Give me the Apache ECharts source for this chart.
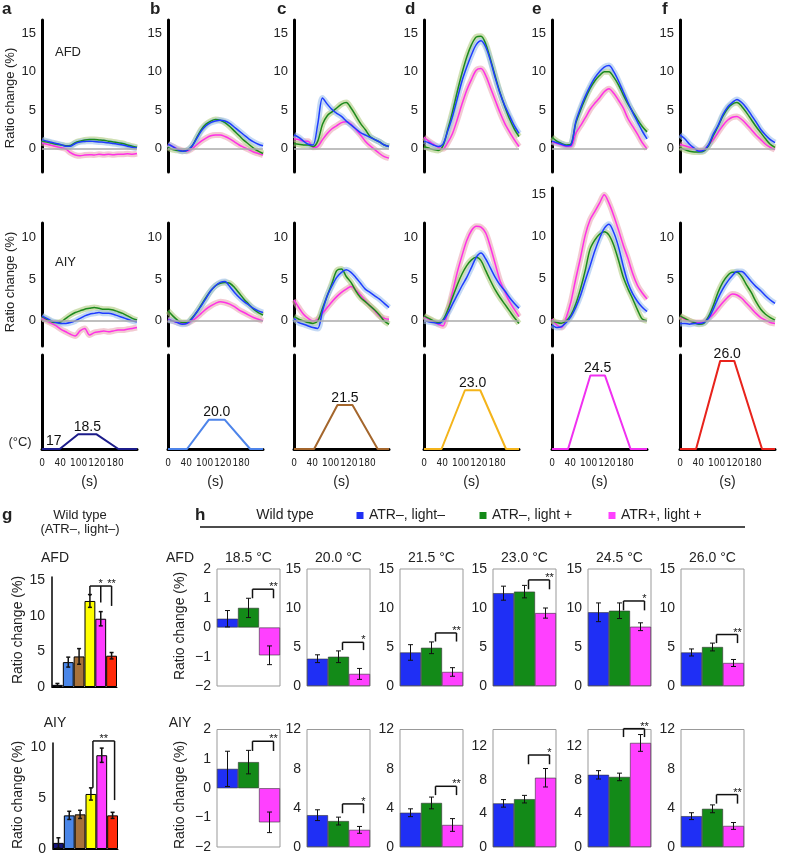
<!DOCTYPE html>
<html><head><meta charset="utf-8">
<script src="https://cdn.jsdelivr.net/npm/echarts@6.0.0/dist/echarts.min.js"></script>
<style>html,body{margin:0;padding:0;background:#fff}#c{width:788px;height:859px}</style>
</head><body><div id="c"></div>
<script>
// ---------------- DATA ----------------
const timeSec = [0,10,20,30,40,50,60,70,80,90,100,110,120,130,140,150,160,170,180,190,200];

// AFD traces (ratio change %)  blue = ATR–,light– ; green = ATR–,light+ ; mag = ATR+,light+
const afdA_blue  = [1.2,1.0,0.85,0.7,0.55,0.35,0.35,0.7,0.9,0.95,1.0,0.95,0.9,0.85,0.8,0.7,0.6,0.5,0.35,0.2,0.1];
const afdA_green = [1.0,0.9,0.75,0.6,0.5,0.4,0.45,0.8,1.0,1.15,1.2,1.2,1.15,1.1,1.0,0.9,0.8,0.7,0.5,0.35,0.2];
const afdA_mag   = [0.8,0.6,0.45,0.3,0.15,0.0,-0.5,-0.8,-0.9,-0.8,-0.75,-0.8,-0.7,-0.75,-0.7,-0.75,-0.7,-0.7,-0.65,-0.7,-0.6];
const afdB_blue  = [0.6,0.3,-0.1,-0.3,-0.2,0.3,1.3,2.3,3.0,3.4,3.6,3.7,3.6,3.3,2.8,2.3,1.8,1.3,0.9,0.6,0.4];
const afdB_green = [0.2,-0.1,-0.2,-0.3,-0.2,0.3,1.4,2.5,3.2,3.6,3.8,3.7,3.4,2.9,2.3,1.7,1.1,0.6,0.1,-0.3,-0.6];
const afdB_mag   = [0.6,0.3,0.0,-0.2,-0.3,0.0,0.5,1.0,1.4,1.7,1.8,1.8,1.6,1.3,0.9,0.5,0.2,-0.1,-0.4,-0.6,-0.8];
const afdC_blue  = [1.8,1.5,1.0,0.6,0.5,3.2,6.6,5.8,5.1,4.6,4.2,3.6,3.1,2.6,2.1,1.8,1.5,1.2,0.9,0.5,0.3];
const afdC_green = [0.7,0.6,0.5,0.5,0.3,1.0,3.2,4.3,4.8,5.3,5.8,6.0,5.3,4.3,3.3,2.5,1.6,1.2,0.9,0.5,0.3];
const afdC_mag   = [1.3,1.2,1.0,1.0,0.2,0.3,1.2,2.0,2.6,3.0,3.4,3.5,3.2,2.5,1.8,1.0,0.4,-0.1,-0.6,-1.0,-1.2];
const afdD_blue  = [1.0,0.8,0.5,0.3,0.6,2.3,4.2,6.5,8.8,10.6,12.2,13.5,14.0,13.2,11.4,9.2,7.2,5.6,4.3,3.0,2.0];
const afdD_green = [0.3,0.1,-0.1,-0.2,0.4,2.5,4.8,7.4,9.8,11.9,13.5,14.5,14.6,13.6,11.6,9.4,7.3,5.5,3.9,2.6,1.6];
const afdD_mag   = [1.5,1.0,0.6,0.2,0.0,0.8,2.0,3.8,5.8,7.6,9.0,10.2,10.4,9.5,7.9,6.3,4.7,3.3,2.2,1.2,0.3];
const afdE_blue  = [1.0,0.8,0.6,0.4,0.5,3.5,5.3,6.8,8.1,9.2,10.0,10.6,10.8,10.0,8.8,7.4,6.0,4.7,3.5,2.3,1.3];
const afdE_green = [1.5,1.0,0.7,0.5,0.6,3.3,5.0,6.5,7.8,8.8,9.5,10.0,10.0,9.3,8.3,7.0,5.8,4.8,3.8,2.9,2.2];
const afdE_mag   = [0.9,0.7,0.5,0.3,0.3,2.0,3.0,4.0,5.1,5.9,6.6,7.4,7.8,7.2,6.3,5.3,3.9,2.9,1.9,0.8,0.0];
const afdF_blue  = [1.8,1.3,0.6,0.1,-0.3,-0.2,0.5,1.9,3.0,4.4,5.4,6.0,6.4,6.0,5.3,4.4,3.5,2.5,1.8,1.2,0.8];
const afdF_green = [0.2,-0.1,-0.3,-0.4,-0.4,-0.3,0.4,1.7,2.9,4.2,5.2,5.8,6.0,5.5,4.7,3.8,2.9,2.1,1.3,0.6,0.2];
const afdF_mag   = [0.6,0.4,0.2,0.0,-0.2,-0.1,0.5,1.2,2.1,3.0,3.7,4.1,4.2,3.8,3.2,2.5,1.8,1.2,0.6,0.2,-0.1];

// AIY traces
const aiyA_blue  = [0.6,0.3,0.0,-0.2,-0.3,-0.3,-0.2,0.0,0.3,0.6,0.8,0.9,1.0,0.9,0.9,0.8,0.6,0.4,0.2,0.0,-0.1];
const aiyA_green = [0.5,0.2,-0.1,-0.2,-0.1,0.3,0.7,1.0,1.2,1.4,1.5,1.6,1.5,1.4,1.4,1.3,1.1,0.9,0.6,0.3,0.1];
const aiyA_mag   = [0.4,0.0,-0.3,-0.6,-1.0,-1.3,-1.6,-1.8,-1.2,-0.9,-1.7,-1.4,-1.3,-1.2,-1.3,-1.2,-1.1,-1.1,-1.0,-0.9,-0.8];
const aiyB_blue  = [0.1,0.0,-0.2,-0.4,-0.3,0.2,1.0,1.8,2.7,3.6,4.2,4.6,4.7,4.1,3.4,2.8,2.3,1.9,1.5,1.2,1.0];
const aiyB_green = [1.2,0.6,0.1,-0.2,-0.2,0.3,1.0,1.9,2.8,3.6,4.2,4.5,4.6,4.5,4.0,3.3,2.6,2.0,1.4,1.0,0.7];
const aiyB_mag   = [0.2,0.0,-0.2,-0.3,-0.3,0.0,0.4,0.9,1.4,1.8,2.1,2.3,2.2,2.0,1.7,1.3,1.0,0.7,0.4,0.2,0.0];
const aiyC_blue  = [0.3,-0.2,-0.4,-0.6,-0.8,-0.9,1.2,3.0,4.2,5.2,5.8,6.1,5.8,5.2,4.5,3.8,3.4,3.0,2.6,2.1,1.6];
const aiyC_green = [0.5,0.2,0.0,-0.2,-0.3,0.0,1.5,3.0,4.5,6.0,6.2,5.3,4.6,3.6,2.8,2.3,1.8,1.3,0.7,0.0,-0.4];
const aiyC_mag   = [2.5,1.6,0.8,0.3,0.0,0.2,0.9,1.6,2.3,2.9,3.4,3.8,4.1,3.7,3.1,2.4,1.8,1.2,0.6,0.3,0.2];
const aiyD_blue  = [0.0,-0.1,-0.2,-0.3,0.0,0.9,2.0,3.1,4.2,5.2,6.4,7.6,8.1,7.4,6.3,5.2,4.3,3.6,2.8,2.1,1.5];
const aiyD_green = [0.6,0.3,0.0,-0.2,0.1,1.3,2.8,4.3,5.6,6.6,7.3,7.6,7.2,6.0,4.8,3.7,2.8,2.0,1.2,0.4,-0.3];
const aiyD_mag   = [0.5,0.2,-0.1,-0.4,-0.6,1.2,3.4,5.8,7.8,9.6,10.8,11.3,11.2,10.5,8.8,6.8,4.8,3.5,2.3,1.4,0.5];
const aiyE_blue  = [-0.5,-0.8,-0.7,-0.2,0.5,1.6,3.0,4.8,6.5,8.3,9.8,11.0,11.5,10.5,8.8,6.5,4.5,3.2,2.3,1.6,1.1];
const aiyE_green = [0.0,-0.2,-0.3,0.0,0.7,2.0,3.8,6.0,8.5,9.6,10.3,10.6,10.2,9.0,7.2,5.2,3.8,2.6,1.3,0.2,0.0];
const aiyE_mag   = [0.2,-0.5,-0.8,0.4,2.3,5.0,7.5,10.2,12.0,13.0,14.0,15.0,14.0,12.5,10.8,9.0,7.4,5.6,4.2,3.3,2.6];
const aiyF_blue  = [-0.3,-0.3,-0.4,-0.3,-0.3,-0.2,0.3,1.4,2.7,3.8,4.7,5.4,5.9,5.9,5.4,4.7,4.1,3.6,3.0,2.5,2.1];
const aiyF_green = [0.6,0.3,0.0,-0.2,-0.4,-0.3,0.5,1.8,3.4,4.6,5.4,5.8,5.8,5.3,4.3,3.4,2.3,1.4,0.8,0.4,0.1];
const aiyF_mag   = [0.5,0.2,0.0,-0.2,-0.2,-0.1,0.3,0.8,1.5,2.2,2.8,3.2,3.1,2.7,2.1,1.5,0.9,0.4,0.1,-0.2,-0.3];

// Temperature stimulus (x in units of the time-label axis)
const timeTickLabels = ['0','40','100','120','180'];
const tempBase = 17;
const tempPeak = [18.5, 20.0, 21.5, 23.0, 24.5, 26.0];
const tempProfA = [0, 0.97, 1.98, 2.99, 4.18, 5.2];
const tempProfB = [0, 1.04, 2.24, 3.10, 4.50, 5.2];
const tempProfC = [0, 1.10, 2.38, 3.20, 4.58, 5.2];
const tempProfD = [0, 0.96, 2.24, 3.08, 4.49, 5.2];
const tempProfE = [0, 0.88, 2.10, 2.90, 4.30, 5.2];
const tempProfF = [0, 0.88, 2.20, 2.97, 4.49, 5.2];

// Panel g: wild type (ATR–, light–) peak responses per temperature
const gCategories = ['18.5','20.0','21.5','23.0','24.5','26.0'];
const gAfdMean = [0.3, 3.5, 4.3, 12.1, 9.6, 4.4];
const gAfdSem  = [0.2, 0.7, 1.1, 0.9, 1.0, 0.45];
const gAiyMean = [0.6, 3.3, 3.4, 5.4, 9.2, 3.3];
const gAiySem  = [0.5, 0.4, 0.4, 0.6, 0.7, 0.3];

// Panel h
const hTitles = ['18.5 °C','20.0 °C','21.5 °C','23.0 °C','24.5 °C','26.0 °C'];
const hGroups = ['ATR–, light–','ATR–, light +','ATR+, light +'];
const hAfdBlue  = [0.3, 3.5, 4.3, 11.9, 9.45, 4.3];
const hAfdGreen = [0.67, 3.75, 4.9, 12.1, 9.65, 5.0];
const hAfdMag   = [-0.95, 1.55, 1.8, 9.35, 7.6, 2.95];
const hAfdBlueErr  = [0.28, 0.5, 1.0, 0.9, 1.2, 0.45];
const hAfdGreenErr = [0.33, 0.75, 0.75, 0.8, 1.0, 0.5];
const hAfdMagErr   = [0.32, 0.7, 0.55, 0.65, 0.5, 0.45];
const hAiyBlue  = [0.66, 3.25, 3.5, 5.2, 8.6, 3.15];
const hAiyGreen = [0.89, 2.65, 4.5, 5.7, 8.35, 3.9];
const hAiyMag   = [-1.16, 1.75, 2.25, 8.25, 12.4, 2.15];
const hAiyBlueErr  = [0.6, 0.55, 0.4, 0.45, 0.5, 0.35];
const hAiyGreenErr = [0.4, 0.4, 0.6, 0.45, 0.45, 0.4];
const hAiyMagErr   = [0.35, 0.35, 0.65, 1.1, 1.0, 0.35];
const hAfdSig = ['**','*','**','**','*','**'];
const hAiySig = ['**','*','**','*','**','**'];
const hAfdBracketTop = [1.31, 5.6, 6.8, 13.6, 10.9, 6.6];
const hAfdBracketLow = [1.0, 4.6, 5.7, 12.4, 9.7, 5.5];
const hAiyBracketTop = [1.6, 4.4, 6.2, 10.96, 14.1, 5.35];
const hAiyBracketLow = [1.27, 3.45, 5.3, 9.86, 13.1, 4.43];
const hAfdYMin = [-2, 0, 0, 0, 0, 0];
const hAfdYMax = [2, 15, 15, 15, 15, 15];
const hAiyYMin = [-2, 0, 0, 0, 0, 0];
const hAiyYMax = [2, 12, 12, 14, 14, 12];
const hAfdTicks = [[-2,-1,0,1,2],[0,5,10,15],[0,5,10,15],[0,5,10,15],[0,5,10,15],[0,5,10,15]];
const hAiyTicks = [[-2,-1,0,1,2],[0,4,8,12],[0,4,8,12],[0,4,8,12],[0,4,8,12],[0,4,8,12]];

// ---------------- STYLE ----------------
const FONT = '"Liberation Sans", Arial, Helvetica, sans-serif';
const NARROW = '"Liberation Sans Narrow", "DejaVu Sans Condensed", "Liberation Sans", sans-serif';
const TXT = '#222';
const C = {
  blue: '#1e3cff', blueBand: '#9cc0ec',
  green: '#1c8a1c', greenBand: '#b0cc80',
  mag: '#ff30e6', magBand: '#eaa6b4'
};
const tempColors = ['#1c1c8a','#4d84ea','#a4662c','#f4b41a','#f030f0','#e8231c'];
const gColors = ['#14147a','#4a86e8','#a8723a','#ffff00','#ff3cff','#ff2a0a'];
const hColors = ['#1f2ff5','#138a18','#ff40ff'];
const colX = [42, 168, 294, 424, 552, 680];
const hColX = [217, 307, 400, 493, 588, 681];

const grids = [], xAxes = [], yAxes = [], series = [], gfx = [];
function addGrid(grid, xAxis, yAxis) {
  const i = grids.length;
  grids.push(grid);
  xAxes.push(Object.assign({ gridIndex: i }, xAxis));
  yAxes.push(Object.assign({ gridIndex: i }, yAxis));
  return i;
}
function minusFmt(v) { return v < 0 ? '\u2212' + Math.abs(v) : String(v); }

// ---------------- TRACE PANELS ----------------
const afdSets = [[afdA_blue,afdA_green,afdA_mag],[afdB_blue,afdB_green,afdB_mag],[afdC_blue,afdC_green,afdC_mag],
                 [afdD_blue,afdD_green,afdD_mag],[afdE_blue,afdE_green,afdE_mag],[afdF_blue,afdF_green,afdF_mag]];
const aiySets = [[aiyA_blue,aiyA_green,aiyA_mag],[aiyB_blue,aiyB_green,aiyB_mag],[aiyC_blue,aiyC_green,aiyC_mag],
                 [aiyD_blue,aiyD_green,aiyD_mag],[aiyE_blue,aiyE_green,aiyE_mag],[aiyF_blue,aiyF_green,aiyF_mag]];

function traceAxisY(max, ticks) {
  return { type: 'value', min: -3, max: max,
    axisLine: { show: true, onZero: false, lineStyle: { color: '#000', width: 3 } },
    axisTick: { show: false }, splitLine: { show: false },
    axisLabel: { customValues: ticks, fontSize: 13, color: TXT, margin: 6, fontFamily: FONT } };
}
function addTraces(gi, set) {
  const [b, g, m] = set;
  const order = [[m, C.mag, C.magBand], [g, C.green, C.greenBand], [b, C.blue, C.blueBand]];
  order.forEach(([arr, col, band], k) => {
    const s = { type: 'line', xAxisIndex: gi, yAxisIndex: gi, silent: true, showSymbol: false, smooth: 0.3,
      data: timeSec.map((t, i) => [t, arr[i]]),
      lineStyle: { color: band, width: 6, opacity: 0.6 }, z: 2 };
    if (k === 0) s.markLine = { silent: true, symbol: 'none', label: { show: false }, animation: false,
      lineStyle: { color: '#aaa', width: 1.5, type: 'solid' }, data: [{ yAxis: 0 }] };
    series.push(s);
  });
  order.forEach(([arr, col]) => {
    series.push({ type: 'line', xAxisIndex: gi, yAxisIndex: gi, silent: true, showSymbol: false, smooth: 0.3,
      data: timeSec.map((t, i) => [t, arr[i]]),
      lineStyle: { color: col, width: 1.5 }, z: 3 });
  });
}
const traceX = { type: 'value', min: 0, max: 200, show: false };
for (let c = 0; c < 6; c++) {
  const gi = addGrid({ left: colX[c], top: 20, width: 95, height: 152 }, traceX, traceAxisY(16.7, [0,5,10,15]));
  addTraces(gi, afdSets[c]);
  const tall = c === 4;
  const gj = addGrid({ left: colX[c], top: tall ? 188 : 223, width: 95, height: tall ? 158 : 123 }, traceX,
    traceAxisY(tall ? 15.8 : 11.7, tall ? [0,5,10,15] : [0,5,10]));
  addTraces(gj, aiySets[c]);
}

// ---------------- TEMPERATURE PANELS ----------------
const tempProfiles = [tempProfA, tempProfB, tempProfC, tempProfD, tempProfE, tempProfF];
for (let c = 0; c < 6; c++) {
  const gi = addGrid({ left: colX[c], top: 355, width: 95, height: 94 },
    { type: 'value', min: 0, max: 5.2, interval: 1,
      axisLine: { show: true, onZero: false, lineStyle: { color: '#000', width: 3 } },
      axisTick: { show: false }, splitLine: { show: false },
      axisLabel: { formatter: v => (timeTickLabels[v] !== undefined ? timeTickLabels[v] : ''), fontSize: 10, color: TXT, margin: 9, fontFamily: NARROW, showMaxLabel: false },
      name: '(s)', nameLocation: 'middle', nameGap: 26, nameTextStyle: { fontSize: 14, color: TXT, fontFamily: FONT } },
    { type: 'value', min: tempBase, max: 26.6,
      axisLine: { show: true, onZero: false, lineStyle: { color: '#000', width: 3 } },
      axisTick: { show: false }, splitLine: { show: false }, axisLabel: { show: false } });
  const px = tempProfiles[c];
  const py = [tempBase, tempBase, tempPeak[c], tempPeak[c], tempBase, tempBase];
  const mp = [{ coord: [(px[2] + px[3]) / 2, tempPeak[c]], value: tempPeak[c],
    label: { formatter: tempPeak[c].toFixed(1), position: 'top', distance: 0 } }];
  if (c === 0) mp.push({ coord: [0, tempBase], value: tempBase,
    label: { formatter: String(tempBase), position: 'right', offset: [2, -8], distance: 2 } });
  series.push({ type: 'line', xAxisIndex: gi, yAxisIndex: gi, silent: true, showSymbol: false,
    data: px.map((x, i) => [x, py[i]]), lineStyle: { color: tempColors[c], width: 2 }, z: 3,
    markPoint: { symbol: 'circle', symbolSize: 0, silent: true, animation: false,
      label: { show: true, color: '#111', fontSize: 14, fontFamily: FONT }, data: mp } });
}

// ---------------- helpers for bar panels ----------------
function errorSeries(gi, means, errs, capW, lw) {
  return { type: 'custom', xAxisIndex: gi, yAxisIndex: gi, silent: true, z: 10,
    data: means.map((m, i) => [i, m, errs[i]]),
    renderItem: (params, api) => {
      const x = api.value(0), m = api.value(1), e = api.value(2);
      const t = api.coord([x, m + e]), b = api.coord([x, m - e]);
      const st = { stroke: '#111', lineWidth: lw };
      return { type: 'group', children: [
        { type: 'line', shape: { x1: t[0], y1: t[1], x2: b[0], y2: b[1] }, style: st },
        { type: 'line', shape: { x1: t[0] - capW, y1: t[1], x2: t[0] + capW, y2: t[1] }, style: st },
        { type: 'line', shape: { x1: b[0] - capW, y1: b[1], x2: b[0] + capW, y2: b[1] }, style: st }
      ] };
    } };
}
function bracketSeries(gi, legs, top, sigs, dx) {
  // legs: [[catIndex, lowValue], ...]; sigs: [[catPosition, text], ...]
  return { type: 'custom', xAxisIndex: gi, yAxisIndex: gi, silent: true, z: 11, clip: false,
    data: [[legs[0][0], top]],
    renderItem: (params, api) => {
      const ch = [];
      const first = api.coord([legs[0][0], top]), last = api.coord([legs[legs.length - 1][0], top]);
      ch.push({ type: 'line', shape: { x1: first[0] + dx, y1: first[1], x2: last[0] + dx, y2: last[1] }, style: { stroke: '#111', lineWidth: 1.5 } });
      legs.forEach(([ci, low]) => {
        const a = api.coord([ci, top]), b = api.coord([ci, low]);
        ch.push({ type: 'line', shape: { x1: a[0] + dx, y1: a[1], x2: b[0] + dx, y2: b[1] }, style: { stroke: '#111', lineWidth: 1.5 } });
      });
      sigs.forEach(([pos, txt]) => {
        const p = api.coord([pos, top]);
        ch.push({ type: 'text', x: p[0] + dx, y: p[1] - 2,
          style: { text: txt, fill: '#111', font: '11px ' + FONT, align: 'center', verticalAlign: 'middle', textAlign: 'center', textVerticalAlign: 'middle' } });
      });
      return { type: 'group', children: ch };
    } };
}

// ---------------- PANEL g ----------------
function addGPanel(grid, ymax, ticks, means, sems) {
  const gi = addGrid(grid,
    { type: 'category', data: gCategories, boundaryGap: true,
      axisLine: { show: true, onZero: false, lineStyle: { color: '#000', width: 1 } },
      axisTick: { show: false }, axisLabel: { show: false } },
    { type: 'value', min: 0, max: ymax,
      axisLine: { show: true, lineStyle: { color: '#000', width: 1.5 } },
      axisTick: { show: false }, splitLine: { show: false },
      axisLabel: { customValues: ticks, fontSize: 14, color: TXT, margin: 7, fontFamily: FONT } });
  series.push({ type: 'bar', xAxisIndex: gi, yAxisIndex: gi, silent: true, barCategoryGap: '0%',
    data: means.map((v, i) => ({ value: v, itemStyle: { color: gColors[i], borderColor: '#000', borderWidth: 1 } })) });
  series.push(errorSeries(gi, means, sems, 2, 1.5));
  return gi;
}
const gA = addGPanel({ left: 52, top: 577, width: 65, height: 110 }, 15.47, [0,5,10,15], gAfdMean, gAfdSem);
series.push(bracketSeries(gA, [[3, 12.8], [4, 11.9], [5, 11.4]], 14.2, [[3.5, '*'], [4.5, '**']], 0));
const gB = addGPanel({ left: 53, top: 743, width: 65, height: 106 }, 10.4, [0,5,10], gAiyMean, gAiySem);
series.push(bracketSeries(gB, [[3, 6.0], [5, 4.8]], 10.6, [[4, '**']], 2));

// ---------------- PANEL h ----------------
function addHPanel(left, top, height, ymin, ymax, ticks, vals, errs, bTop, bLow, sig) {
  const gi = addGrid({ left: left, top: top, width: 63, height: height, show: true, borderColor: '#999', borderWidth: 1, backgroundColor: 'transparent' },
    { type: 'category', data: hGroups, boundaryGap: true, show: false },
    { type: 'value', min: ymin, max: ymax,
      axisLine: { show: false }, axisTick: { show: false }, splitLine: { show: false },
      axisLabel: { customValues: ticks, fontSize: 14, color: TXT, margin: 6, fontFamily: FONT, formatter: minusFmt } });
  series.push({ type: 'bar', xAxisIndex: gi, yAxisIndex: gi, silent: true, barCategoryGap: '0%',
    data: vals.map((v, i) => ({ value: v, itemStyle: { color: hColors[i], borderColor: '#333', borderWidth: 0.6 } })) });
  series.push(errorSeries(gi, vals, errs, 2.5, 1));
  series.push(bracketSeries(gi, [[1, bLow], [2, bLow]], bTop, [[1.5, sig]], 4));
}
for (let c = 0; c < 6; c++) {
  addHPanel(hColX[c], 569, 117, hAfdYMin[c], hAfdYMax[c], hAfdTicks[c],
    [hAfdBlue[c], hAfdGreen[c], hAfdMag[c]], [hAfdBlueErr[c], hAfdGreenErr[c], hAfdMagErr[c]],
    hAfdBracketTop[c], hAfdBracketLow[c], hAfdSig[c]);
  addHPanel(hColX[c], 729.5, 117.5, hAiyYMin[c], hAiyYMax[c], hAiyTicks[c],
    [hAiyBlue[c], hAiyGreen[c], hAiyMag[c]], [hAiyBlueErr[c], hAiyGreenErr[c], hAiyMagErr[c]],
    hAiyBracketTop[c], hAiyBracketLow[c], hAiySig[c]);
  gfx.push({ type: 'text', x: hColX[c] + 31.5, y: 558,
    style: { text: hTitles[c], font: '14px ' + FONT, fill: TXT, textAlign: 'center', textVerticalAlign: 'middle', align: 'center', verticalAlign: 'middle' } });
}

// ---------------- TEXT / DECOR ----------------
function txt(x, y, s, size, opts) {
  const o = Object.assign({ align: 'left', valign: 'middle', weight: 'normal', rot: 0 }, opts || {});
  gfx.push({ type: 'text', x: x, y: y, rotation: o.rot,
    style: { text: s, font: o.weight + ' ' + size + 'px ' + FONT, fill: TXT,
      textAlign: o.align, textVerticalAlign: o.valign, align: o.align, verticalAlign: o.valign } });
}
const letters = [['a', 2], ['b', 150], ['c', 277], ['d', 405], ['e', 532], ['f', 662]];
letters.forEach(([l, x]) => txt(x, 9, l, 17, { weight: 'bold' }));
txt(2, 515, 'g', 17, { weight: 'bold' });
txt(195, 515, 'h', 17, { weight: 'bold' });
txt(55, 52, 'AFD', 13);
txt(55, 262, 'AIY', 13);
txt(10, 98, 'Ratio change (%)', 13, { align: 'center', rot: Math.PI / 2 });
txt(10, 282, 'Ratio change (%)', 13, { align: 'center', rot: Math.PI / 2 });
txt(20, 442, '(°C)', 13, { align: 'center' });
// g header
txt(80, 515, 'Wild type', 13, { align: 'center' });
txt(80, 529, '(ATR\u2013, light\u2013)', 13, { align: 'center' });
txt(55, 558, 'AFD', 14, { align: 'center' });
txt(55, 723, 'AIY', 14, { align: 'center' });
txt(18, 630, 'Ratio change (%)', 14, { align: 'center', rot: Math.PI / 2 });
txt(18, 795, 'Ratio change (%)', 14, { align: 'center', rot: Math.PI / 2 });
// h header + legend
txt(285, 515, 'Wild type', 14, { align: 'center' });
const legendX = [360, 483, 612];
hGroups.forEach((g, i) => {
  gfx.push({ type: 'rect', shape: { x: legendX[i] - 3.5, y: 512, width: 7, height: 7 }, style: { fill: hColors[i] } });
  txt(legendX[i] + 9, 515, g, 14);
});
gfx.push({ type: 'line', shape: { x1: 200, y1: 527, x2: 745, y2: 527 }, style: { stroke: '#111', lineWidth: 1.5 } });
txt(180, 558, 'AFD', 14, { align: 'center' });
txt(180, 723, 'AIY', 14, { align: 'center' });
txt(180, 626, 'Ratio change (%)', 14, { align: 'center', rot: Math.PI / 2 });
txt(180, 795, 'Ratio change (%)', 14, { align: 'center', rot: Math.PI / 2 });

// ---------------- RENDER ----------------
const chart = echarts.init(document.getElementById('c'), null, { renderer: 'canvas' });
chart.setOption({
  animation: false,
  backgroundColor: '#fff',
  textStyle: { fontFamily: FONT },
  grid: grids, xAxis: xAxes, yAxis: yAxes, series: series,
  graphic: { elements: gfx }
});
</script></body></html>
